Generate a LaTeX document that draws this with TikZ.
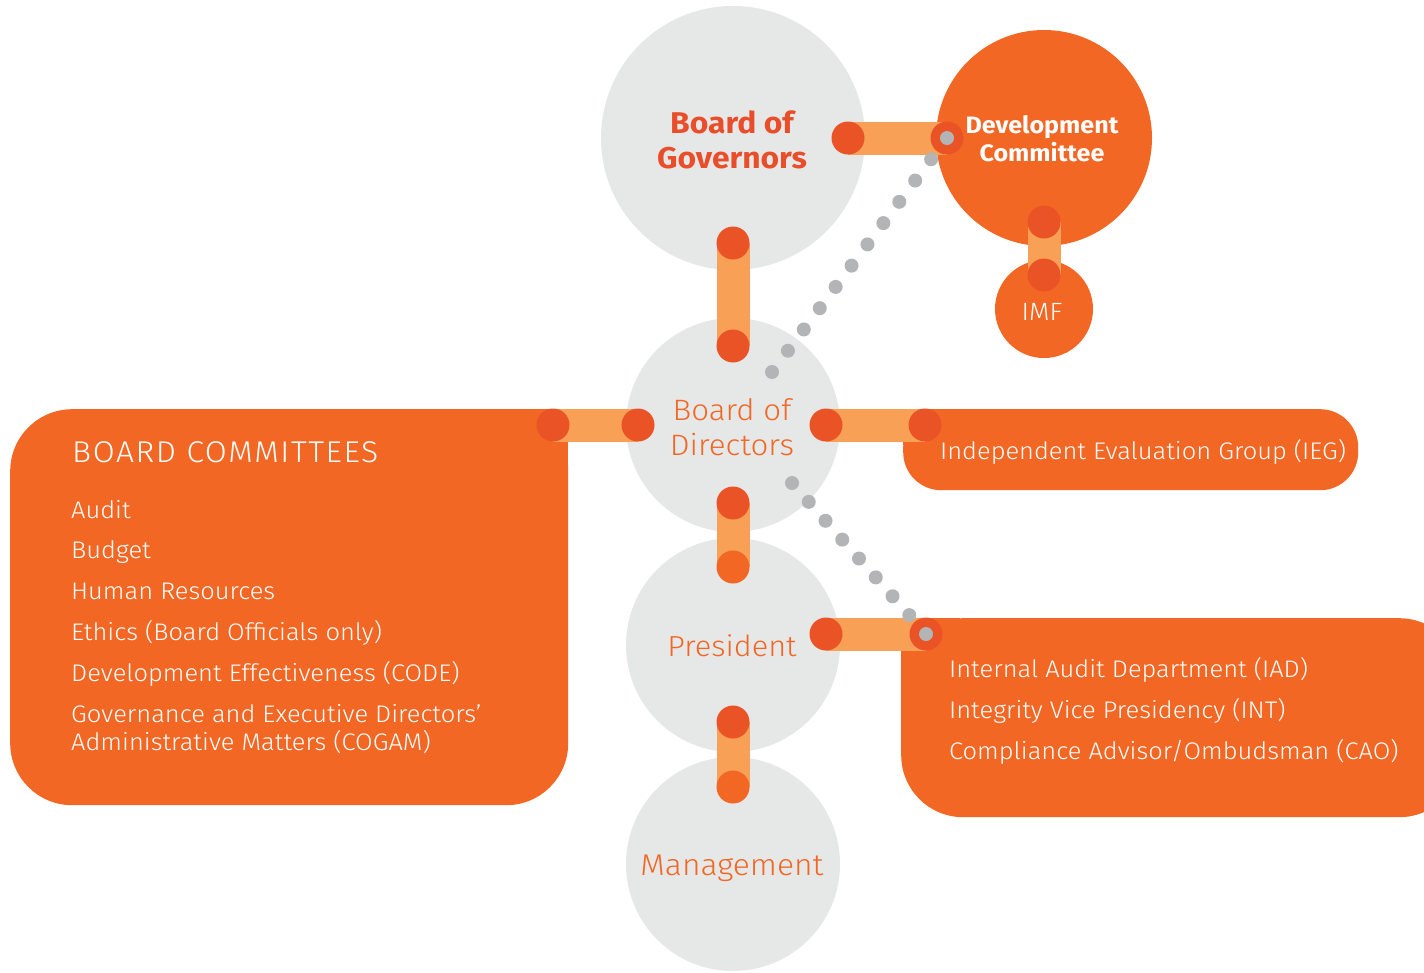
\documentclass[tikz,border=0pt]{standalone}
\usepackage{fontspec}
\setmainfont{Fira Sans}[FakeStretch=1.06]
\newfontfamily\lightfont{Fira Sans Light}[FakeStretch=1.06]
\newfontfamily\lightwide{Fira Sans Light}[FakeStretch=1.06, LetterSpace=5.3]
\usetikzlibrary{calc}
\definecolor{cgrey}{HTML}{E6E7E7}
\definecolor{corange}{HTML}{F26724}
\definecolor{cred}{HTML}{E95325}
\definecolor{cbar}{HTML}{F9A057}
\definecolor{cdot}{HTML}{B3B4B6}
\definecolor{ctitle}{HTML}{E94E2B}
\newcommand{\fs}[1]{\fontsize{#1}{#1}\selectfont}
\tikzset{
  bubble/.style={circle, fill=cgrey, inner sep=0pt, minimum size=#1},
  obubble/.style={circle, fill=corange, inner sep=0pt, minimum size=#1},
  bar/.style={draw=cbar, line width=33pt},
  reddot/.style={fill=cred},
  odot/.style={fill=corange},
  greydot/.style={fill=cdot},
  boxnode/.style={rectangle, fill=corange, inner sep=0pt, anchor=north west},
  wtext/.style={anchor=base west, inner sep=0pt, text=white},
  ctext/.style={anchor=base, inner sep=0pt},
}
\begin{document}
\begin{tikzpicture}[x=1pt,y=-1pt]
\useasboundingbox (0,0) rectangle (1424,972);
\clip (0,0) rectangle (1424,972);
\fill[white] (0,0) rectangle (1424,972);

% circles
\node[bubble=264] (gov) at (733,138) {};
\node[obubble=216] (dev) at (1044,138) {};
\node[obubble=98] (imf) at (1044,309) {};
\node[bubble=214] (dir) at (733,425) {};
\node[bubble=214] (pres) at (733,645) {};
\node[bubble=214] (mgmt) at (733,864) {};

% boxes
\node[boxnode, minimum width=558, minimum height=396, rounded corners=62] (bc) at (10,409) {};
\fill[corange] (500,409) rectangle (568,470);
\node[boxnode, minimum width=455, minimum height=81, rounded corners=38] (ieg) at (903,409) {};
\fill[corange] (903,409) rectangle (950,445);
\node[boxnode, minimum width=560, minimum height=199, rounded corners=62] (iad) at (901,618) {};
\fill[corange] (901,618) rectangle (960,680);

% connector end points
\coordinate (c1a) at (848,138);  \coordinate (c1b) at (947,138);
\coordinate (c2a) at (733,243);  \coordinate (c2b) at (733,346);
\coordinate (c3a) at (1044,222); \coordinate (c3b) at (1044,275);
\coordinate (c4a) at (638,425);  \coordinate (c4b) at (553,425);
\coordinate (c5a) at (826,425);  \coordinate (c5b) at (925,425);
\coordinate (c6a) at (733,503);  \coordinate (c6b) at (733,567);
\coordinate (c7a) at (826,634);  \coordinate (c7b) at (926,634);
\coordinate (c8a) at (733,722);  \coordinate (c8b) at (733,787);
\coordinate (d1end) at (772,372);
\coordinate (d2end) at (792,483);

% bars
\foreach \n in {1,...,8} \draw[bar] (c\n a) -- (c\n b);

% end dots
\foreach \p in {c1a,c1b,c2a,c2b,c3a,c3b,c4a,c4b,c5a,c5b,c6a,c7a,c7b,c8a}
  \fill[reddot] (\p) circle (16.5);
\fill[odot] (c6b) circle (16.5);
\fill[odot] (c8b) circle (16.5);

% dotted connectors
\foreach \i in {0,...,11} \fill[greydot] ($(c1b)!\i/11!(d1end)$) circle (7);
\foreach \i in {0,...,8} \fill[greydot] ($(c7b)!\i/8!(d2end)$) circle (7);

% circle texts
\node[ctext, text=ctitle, font=\bfseries\fs{30}] (govt1) at (732,133) {Board of};
\node[ctext, text=ctitle, font=\bfseries\fs{30}] (govt2) at (732,168) {Governors};
\node[ctext, text=white, font=\bfseries\fs{23.7}] (devt1) at (1042,133) {Development};
\node[ctext, text=white, font=\bfseries\fs{23.7}] (devt2) at (1042,161) {Committee};
\node[ctext, text=white, font=\lightfont\fs{25}] (imft) at (1042,320) {IMF};
\node[ctext, text=corange, font=\lightfont\fs{29.5}] (dirt1) at (732,420) {Board of};
\node[ctext, text=corange, font=\lightfont\fs{29.5}] (dirt2) at (732,455) {Directors};
\node[ctext, text=corange, font=\lightfont\fs{29}] (prest) at (732,656) {President};
\node[ctext, text=corange, font=\lightfont\fs{30}] (mgmtt) at (732,875) {Management};

% box texts
\node[wtext, font=\lightwide\fs{30}] (bct) at (72,462) {BOARD COMMITTEES};
\node[wtext, font=\lightfont\fs{24}] (bc1) at (71,518) {Audit};
\node[wtext, font=\lightfont\fs{24}] (bc2) at (71,558) {Budget};
\node[wtext, font=\lightfont\fs{24}] (bc3) at (71,599) {Human Resources};
\node[wtext, font=\lightfont\fs{24}] (bc4) at (71,640) {Ethics (Board Officials only)};
\node[wtext, font=\lightfont\fs{24}] (bc5) at (71,681) {Development Effectiveness (CODE)};
\node[wtext, font=\lightfont\fs{24}] (bc6) at (71,722) {Governance and Executive Directors’};
\node[wtext, font=\lightfont\fs{24}] (bc7) at (71,750) {Administrative Matters (COGAM)};
\node[wtext, font=\lightfont\fs{24}] (iegt) at (940,459) {Independent Evaluation Group (IEG)};
\node[wtext, font=\lightfont\fs{24}] (iad1) at (949,677) {Internal Audit Department (IAD)};
\node[wtext, font=\lightfont\fs{24}] (iad2) at (949,718) {Integrity Vice Presidency (INT)};
\node[wtext, font=\lightfont\fs{24}] (iad3) at (949,759) {Compliance Advisor/Ombudsman (CAO)};
\end{tikzpicture}
\end{document}
